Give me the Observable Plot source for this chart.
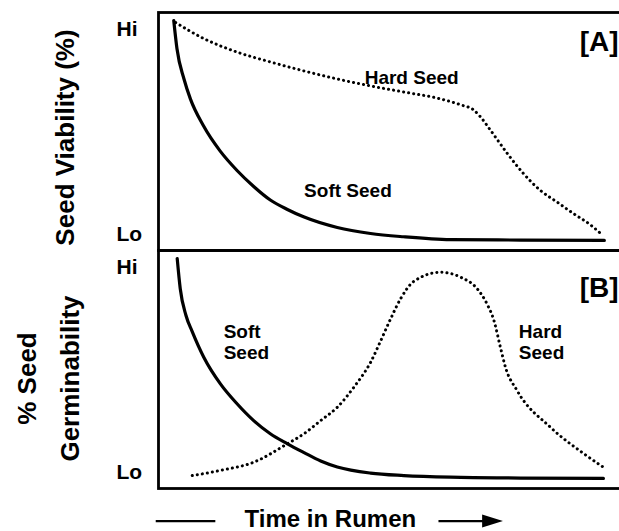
<!DOCTYPE html>
<html><head><meta charset="utf-8">
<script src="https://cdn.jsdelivr.net/npm/d3@7"></script>
<script src="https://cdn.jsdelivr.net/npm/@observablehq/plot@0.6"></script>
<style>body{margin:0;background:#fff}</style>
</head><body><div id="chart"></div>
<script>
// Panels and axis labels
const panels = ["A", "B"];
const yTicks = [0, 100];
const yTickLabels = ["Lo", "Hi"];
const panelTags = ["[A]", "[B]"];
const yTitles = ["Seed Viability (%)", "% Seed\nGerminability"];
const xTitle = "Time in Rumen";
const labelsA = ["Hard Seed", "Soft Seed"];
const labelsB = ["Soft\nSeed", "Hard\nSeed"];

// Panel A: seed viability (time 0-100, Lo=0 .. Hi=100)
const softA_t = [3.3, 4.0, 5.5, 6.9, 9.7, 13.4, 17.0, 20.6, 24.2, 27.9, 31.4, 38.7, 45.9, 53.0, 63.2, 78.4, 96.5];
const softA_v = [104.1, 90.3, 75.7, 65.9, 52.9, 40.3, 31.0, 23.2, 16.6, 12.0, 8.4, 3.2, 0.3, -1.3, -2.7, -2.9, -3.1];
const hardA_t = [3.7, 9.8, 17.0, 24.2, 31.5, 38.7, 45.9, 53.0, 61.0, 65.4, 68.2, 69.7, 71.9, 75.5, 79.0, 82.7, 86.4, 89.8, 93.5, 95.7];
const hardA_v = [103.1, 95.3, 88.7, 83.9, 79.5, 75.6, 72.2, 69.3, 65.9, 63.0, 60.5, 57.1, 50.5, 39.3, 29.5, 21.2, 15.4, 10.0, 4.5, 0.3];

// Panel B: germinability
const softB_t = [4.05, 4.7, 5.95, 7.3, 9.8, 13.4, 17.0, 20.6, 24.2, 27.9, 31.5, 35.1, 38.7, 45.9, 53.1, 63.2, 78.4, 96.3];
const softB_v = [104.0, 89.5, 76.3, 68.5, 56.0, 43.0, 33.3, 25.1, 18.7, 13.8, 9.5, 5.4, 2.5, -0.5, -1.7, -2.5, -2.9, -3.1];
const hardB_t = [7.3, 13.4, 20.6, 27.9, 31.5, 35.1, 38.7, 42.3, 45.9, 48.1, 50.2, 52.4, 55.3, 61.0, 65.4, 69.0, 71.1, 72.6, 74.0, 75.1, 77.6, 84.8, 92.1, 96.8];
const hardB_v = [-1.7, 0.8, 4.8, 13.8, 18.7, 25.1, 31.6, 41.4, 53.5, 64.0, 74.5, 84.5, 93.0, 97.4, 95.0, 89.3, 82.0, 73.9, 60.9, 51.1, 39.8, 21.9, 8.9, 1.6];

const series = (panel, t, v) => t.map((x, i) => ({panel, t: x, v: v[i]}));
const solid = [...series("A", softA_t, softA_v), ...series("B", softB_t, softB_v)];
const dotted = [...series("A", hardA_t, hardA_v), ...series("B", hardB_t, hardB_v)];

const arrowHead = {
  draw(ctx, size) {
    const r = Math.sqrt(size / Math.PI);
    ctx.moveTo(r * 1.6, 0);
    ctx.lineTo(-r * 1.6, -r);
    ctx.lineTo(-r * 1.6, r);
    ctx.closePath();
  }
};

const font = "'Liberation Sans', Arial, Helvetica, sans-serif";
const txt = d => d;

const chart = Plot.plot({
  width: 619, height: 531,
  marginLeft: 158, marginRight: -1, marginTop: 12, marginBottom: 43,
  style: {fontFamily: font, background: "#fff", color: "#000"},
  x: {domain: [0, 100], axis: null},
  y: {domain: [-8, 108], axis: null},
  fy: {domain: panels, padding: 0, axis: null},
  marks: [
    Plot.frame({stroke: "#000", strokeWidth: 2.8}),
    Plot.axisY({ticks: yTicks, tickFormat: d => yTickLabels[yTicks.indexOf(d)], tickSize: 0, tickPadding: 42,
      textAnchor: "start", fontSize: 21, fontWeight: "bold", label: null, fill: "#000"}),
    Plot.line(solid, {x: "t", y: "v", fy: "panel", z: "panel", curve: "monotone-x",
      stroke: "#000", strokeWidth: 3.2}),
    Plot.line(dotted, {x: "t", y: "v", fy: "panel", z: "panel", curve: "monotone-x",
      stroke: "#000", strokeWidth: 3, strokeDasharray: "0.1,5", strokeLinecap: "round"}),
    Plot.text(labelsA, {x: [54.8, 41.0], y: [76.3, 21.0], fy: ["A", "A"], text: txt,
      fontSize: 19, fontWeight: "bold", fill: "#000"}),
    Plot.text(labelsB, {x: [14.1, 78.0], y: [63.6, 63.6], fy: ["B", "B"], text: txt, textAnchor: "start",
      lineHeight: 1.1, fontSize: 19, fontWeight: "bold", fill: "#000"}),
    Plot.text(panelTags, {x: 100, y: [93.4, 89.5], fy: panels, text: txt, textAnchor: "end", dx: -2,
      fontSize: 28, fontWeight: "bold", fill: "#000"}),
    Plot.text([yTitles[0]], {fy: ["A"], frameAnchor: "left", textAnchor: "middle", lineAnchor: "middle",
      dx: -93, dy: 6, rotate: -90, text: txt, fontSize: 26, fontWeight: "bold", fill: "#000"}),
    Plot.text([yTitles[1]], {fy: ["B"], frameAnchor: "left", textAnchor: "middle", lineAnchor: "middle",
      dx: -115, dy: 9, rotate: -90, text: txt, lineHeight: 1.65, fontSize: 26, fontWeight: "bold", fill: "#000"}),
    Plot.text([xTitle], {fy: ["B"], x: 37.2, frameAnchor: "bottom", lineAnchor: "middle", dy: 31, text: txt,
      fontSize: 24, fontWeight: "bold", fill: "#000"}),
    Plot.link([xTitle], {fy: ["B"], x1: -0.6, x2: 12.3, y1: -23.9, y2: -23.9, stroke: "#000", strokeWidth: 2.2}),
    Plot.link([xTitle], {fy: ["B"], x1: 60.6, x2: 70.5, y1: -23.9, y2: -23.9, stroke: "#000", strokeWidth: 2.2}),
    Plot.dot([xTitle], {fy: ["B"], x: 72.3, y: -23.9, symbol: arrowHead, r: 6.5, fill: "#000", stroke: "none"})
  ]
});
document.getElementById("chart").append(chart);
</script>
</body></html>
